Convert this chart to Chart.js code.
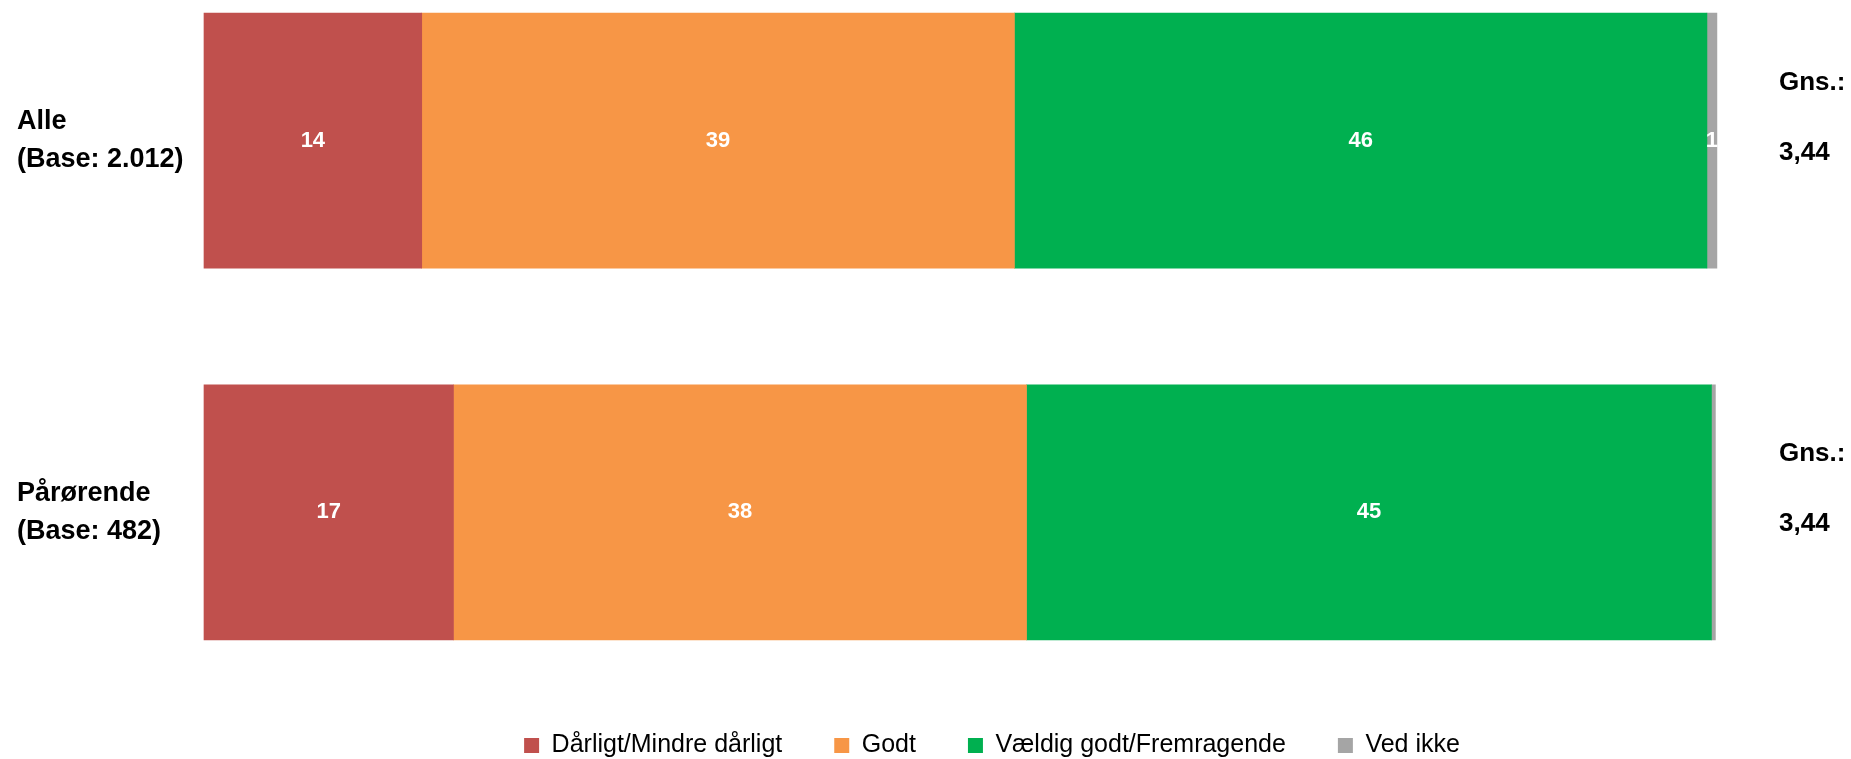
<!DOCTYPE html>
<html lang="da">
<head>
    <meta charset="UTF-8">
    <title>Vurdering</title>
    <script src="https://cdn.jsdelivr.net/npm/chart.js"></script>
    <style>
        html, body { margin: 0; padding: 0; background: #fff; }
        #wrap { width: 1851px; height: 759px; }
    </style>
</head>
<body>
<div id="wrap"><canvas id="chart"></canvas></div>
<script>
// groups (one bar each)
const groups = [['Alle', '(Base: 2.012)'], ['Pårørende', '(Base: 482)']];
const means = [3.44, 3.44];

// answer shares in percent
const seriesNames = ['Dårligt/Mindre dårligt', 'Godt', 'Vældig godt/Fremragende', 'Ved ikke'];
const bad = [14.4, 16.5];
const good = [39.2, 37.9];
const great = [45.8, 45.3];
const dontKnow = [0.66, 0.26];

const colors = ['#C0504D', '#F79646', '#00B050', '#A5A5A5'];

Chart.defaults.font.family = "'Liberation Sans', Arial, sans-serif";
Chart.defaults.color = '#000';

// white value labels inside the bars
const valueLabels = {
    id: 'valueLabels',
    afterDatasetsDraw(chart) {
        const ctx = chart.ctx;
        ctx.save();
        ctx.font = 'bold 22px "Liberation Sans", Arial, sans-serif';
        ctx.fillStyle = '#fff';
        ctx.textAlign = 'center';
        ctx.textBaseline = 'middle';
        chart.data.datasets.forEach((ds, i) => {
            chart.getDatasetMeta(i).data.forEach((bar, j) => {
                const r = Math.round(ds.data[j].x);
                if (r < 1) return;
                const p = bar.getCenterPoint();
                ctx.fillText(String(r), p.x, p.y);
            });
        });
        ctx.restore();
    }
};

// "Gns.:" and mean at the right of each bar
const meanLabels = {
    id: 'meanLabels',
    afterDraw(chart) {
        const ctx = chart.ctx;
        const y = chart.scales.y;
        ctx.save();
        ctx.font = 'bold 26px "Liberation Sans", Arial, sans-serif';
        ctx.fillStyle = '#000';
        ctx.textAlign = 'left';
        ctx.textBaseline = 'alphabetic';
        means.forEach((m, i) => {
            const cy = y.getPixelForValue(i);
            const x = chart.chartArea.right + 63;
            ctx.fillText('Gns.:', x, cy - 51);
            ctx.fillText(m.toFixed(2).replace('.', ','), x, cy + 19);
        });
        ctx.restore();
    }
};

// nudge the legend a little to the right, as in the original
const legendShift = {
    id: 'legendShift',
    afterLayout(chart) {
        if (chart.legend) {
            chart.legend.left += 32;
            chart.legend.right += 32;
        }
    }
};

const seriesData = [bad, good, great, dontKnow];

new Chart(document.getElementById('chart'), {
    type: 'bar',
    data: {
        datasets: seriesData.map((vals, k) => ({
            label: seriesNames[k],
            data: vals.map((v, i) => ({ x: v, y: i })),
            backgroundColor: colors[k],
            borderWidth: 0,
            barThickness: 255,
            clip: false
        }))
    },
    options: {
        indexAxis: 'y',
        responsive: true,
        maintainAspectRatio: false,
        animation: false,
        layout: { padding: { left: 17, right: 135, top: 0, bottom: -9 } },
        scales: {
            x: {
                stacked: true,
                min: 0,
                max: 100,
                display: false
            },
            y: {
                type: 'linear',
                stacked: true,
                reverse: true,
                offset: false,
                min: -0.2685,
                max: 1.4537,
                grid: { display: false, offset: false },
                border: { display: false },
                afterBuildTicks(scale) {
                    scale.ticks = groups.map((g, i) => ({ value: i }));
                },
                afterFit(scale) {
                    scale.width = 187;
                },
                ticks: {
                    crossAlign: 'far',
                    autoSkip: false,
                    color: '#000',
                    font: { size: 27, weight: 'bold', lineHeight: 1.4 },
                    callback: (v) => groups[v]
                }
            }
        },
        plugins: {
            legend: {
                position: 'bottom',
                fullSize: false,
                labels: {
                    boxWidth: 15,
                    boxHeight: 15,
                    padding: 52,
                    color: '#000',
                    font: { size: 25, lineHeight: 1 }
                }
            },
            tooltip: { enabled: false }
        }
    },
    plugins: [valueLabels, meanLabels, legendShift]
});
</script>
</body>
</html>
